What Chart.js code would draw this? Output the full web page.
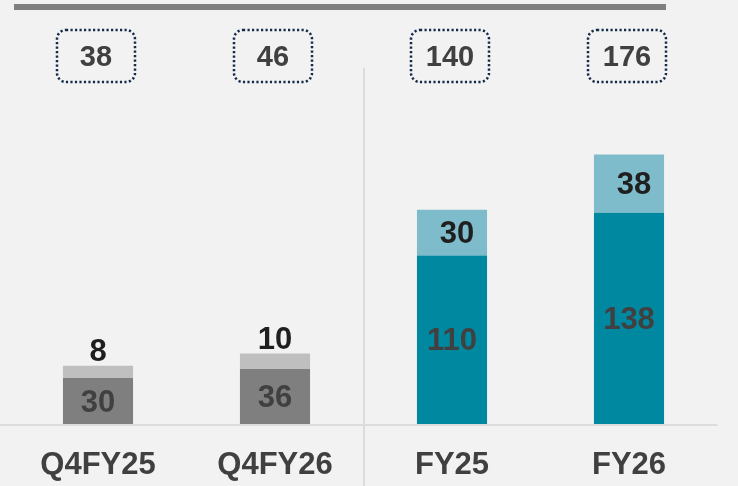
<!DOCTYPE html>
<html>
<head>
<meta charset="utf-8">
<script src="https://cdn.jsdelivr.net/npm/chart.js@4"></script>
<style>
  html, body { margin: 0; padding: 0; background: #f2f2f2; }
  #wrap { width: 738px; height: 486px; position: relative; }
</style>
</head>
<body>
<div id="wrap"><canvas id="chart"></canvas></div>
<script>
// values
const categories = ['Q4FY25', 'Q4FY26', 'FY25', 'FY26'];
const baseValues = [30, 36, 110, 138];
const topValues = [8, 10, 30, 38];
const totals = [38, 46, 140, 176];

const baseColors = ['#7f7f7f', '#7f7f7f', '#0088a1', '#0088a1'];
const topColors = ['#bfbfbf', '#bfbfbf', '#7fbccb', '#7fbccb'];

const FONT = '"Liberation Sans", Arial, sans-serif';

// decorations: top rule, baseline, separator, dotted total boxes, value labels
const decoPlugin = {
    id: 'deco',
    beforeDatasetsDraw(chart) {
        const ctx = chart.ctx;
        const x = chart.scales.x;
        const y0 = chart.scales.y.getPixelForValue(0);
        ctx.save();
        ctx.fillStyle = '#7f7f7f';
        ctx.fillRect(14, 4, 652, 6);
        ctx.strokeStyle = '#dcdcdc';
        ctx.lineWidth = 2;
        ctx.beginPath();
        ctx.moveTo(0, y0 + 1);
        ctx.lineTo(chart.chartArea.right, y0 + 1);
        const sep = Math.round((x.getPixelForValue(1) + x.getPixelForValue(2)) / 2);
        ctx.moveTo(sep, 68);
        ctx.lineTo(sep, chart.height);
        ctx.stroke();
        ctx.restore();
    },
    afterDatasetsDraw(chart) {
        const ctx = chart.ctx;
        const baseMeta = chart.getDatasetMeta(0);
        const topMeta = chart.getDatasetMeta(1);
        ctx.save();
        ctx.textAlign = 'center';
        ctx.textBaseline = 'middle';
        ctx.font = 'bold 31px ' + FONT;
        baseMeta.data.forEach(function(bar, i) {
            ctx.fillStyle = '#404040';
            ctx.fillText(String(baseValues[i]), bar.x, (bar.y + bar.base) / 2 + 2);
        });
        topMeta.data.forEach(function(bar, i) {
            ctx.fillStyle = '#1f1f1f';
            const h = bar.base - bar.y;
            if (h < 30) {
                ctx.textBaseline = 'alphabetic';
                ctx.fillText(String(topValues[i]), bar.x, bar.y - 5);
                ctx.textBaseline = 'middle';
            } else {
                ctx.fillText(String(topValues[i]), bar.x + 5, (bar.y + bar.base) / 2 + 2);
            }
        });
        // total boxes
        ctx.font = 'bold 29px ' + FONT;
        topMeta.data.forEach(function(bar, i) {
            const bw = 78, bh = 52;
            const bx = Math.round(bar.x - bw / 2 - 2), by = 30;
            ctx.strokeStyle = '#142c4a';
            ctx.lineWidth = 2.5;
            ctx.lineCap = 'butt';
            ctx.setLineDash([2.2, 2.3]);
            ctx.beginPath();
            ctx.roundRect(bx, by, bw, bh, 9);
            ctx.stroke();
            ctx.setLineDash([]);
            ctx.fillStyle = '#404040';
            ctx.fillText(String(totals[i]), bx + bw / 2, by + bh / 2 + 2);
        });
        ctx.restore();
    }
};

new Chart(document.getElementById('chart'), {
    type: 'bar',
    data: {
        labels: categories,
        datasets: [
            { data: baseValues, backgroundColor: baseColors, borderWidth: 0 },
            { data: topValues, backgroundColor: topColors, borderWidth: 0 }
        ]
    },
    options: {
        responsive: true,
        maintainAspectRatio: false,
        animation: false,
        layout: { padding: { left: 9.5, right: 20.5, top: 0, bottom: 0 } },
        datasets: { bar: { categoryPercentage: 0.4, barPercentage: 0.99 } },
        scales: {
            x: {
                stacked: true,
                grid: { display: false, drawTicks: false },
                border: { display: false },
                ticks: {
                    color: '#404040',
                    padding: 23,
                    font: { family: FONT, size: 31, weight: 'bold' }
                },
                afterFit: function(scale) { scale.height = 62; }
            },
            y: {
                stacked: true,
                display: false,
                min: 0,
                max: 277
            }
        },
        plugins: {
            legend: { display: false },
            tooltip: { enabled: false }
        }
    },
    plugins: [decoPlugin]
});
</script>
</body>
</html>
